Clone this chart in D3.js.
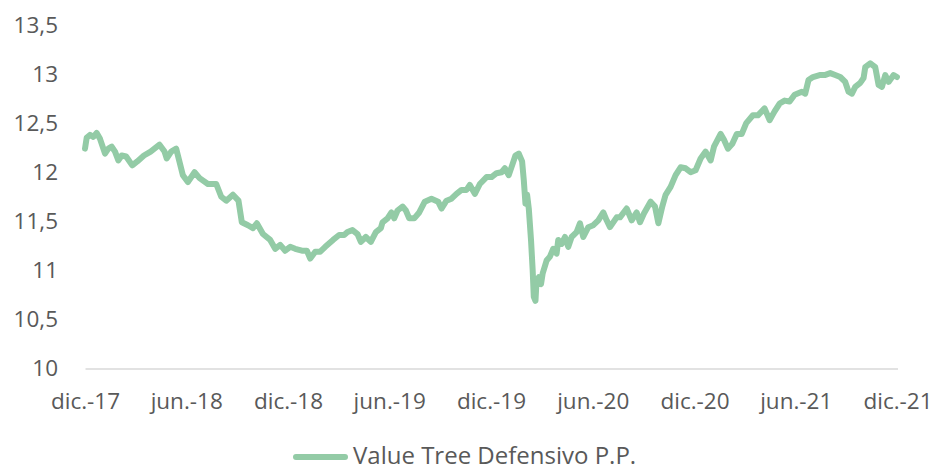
<!DOCTYPE html>
<html>
<head>
<meta charset="utf-8">
<script src="https://cdn.jsdelivr.net/npm/d3@7"></script>
<style>
  html, body { margin: 0; padding: 0; background: #fff; }
  svg { display: block; }
  text { font-family: "Open Sans", sans-serif; fill: #595959; }
</style>
</head>
<body>
<svg id="chart" width="932" height="468"></svg>
<script>
const seriesName = "Value Tree Defensivo P.P.";
const dates = [
"2017-12-01","2017-12-04","2017-12-10","2017-12-16","2017-12-22","2017-12-28",
"2018-01-06","2018-01-12","2018-01-18","2018-01-24","2018-01-30","2018-02-05","2018-02-13","2018-02-24",
"2018-03-05","2018-03-17","2018-03-29","2018-04-14","2018-04-23","2018-04-27","2018-05-05","2018-05-14","2018-05-26",
"2018-06-04","2018-06-16","2018-06-25","2018-07-10","2018-07-25","2018-08-03","2018-08-12","2018-08-24",
"2018-09-03","2018-09-09","2018-09-20","2018-09-29","2018-10-06","2018-10-17","2018-10-30","2018-11-08","2018-11-17","2018-11-26",
"2018-12-05","2018-12-14","2018-12-26","2019-01-04","2019-01-10","2019-01-19","2019-01-28","2019-02-06","2019-02-20",
"2019-03-03","2019-03-12","2019-03-18","2019-03-27","2019-04-05","2019-04-11","2019-04-20","2019-04-29",
"2019-05-08","2019-05-17","2019-05-20","2019-05-29","2019-06-05","2019-06-10","2019-06-16","2019-06-25",
"2019-07-01","2019-07-07","2019-07-16","2019-07-25","2019-08-04","2019-08-16","2019-08-28",
"2019-09-03","2019-09-12","2019-09-21","2019-09-30","2019-10-09","2019-10-18","2019-10-24",
"2019-11-02","2019-11-11","2019-11-23","2019-12-02","2019-12-11","2019-12-20","2019-12-26",
"2020-01-02","2020-01-08","2020-01-14","2020-01-20","2020-01-26","2020-01-29",
"2020-02-01","2020-02-04","2020-02-07","2020-02-11","2020-02-14","2020-02-16","2020-02-19","2020-02-21","2020-02-25","2020-02-29",
"2020-03-03","2020-03-10","2020-03-16","2020-03-22","2020-03-28","2020-03-31",
"2020-04-06","2020-04-12","2020-04-18","2020-04-24","2020-05-03","2020-05-09","2020-05-15","2020-05-24",
"2020-06-02","2020-06-11","2020-06-20","2020-06-26","2020-07-02","2020-07-14","2020-07-20",
"2020-08-01","2020-08-10","2020-08-19","2020-08-25","2020-09-01","2020-09-13","2020-09-21","2020-09-27",
"2020-10-04","2020-10-10","2020-10-19","2020-10-28","2020-11-06","2020-11-15","2020-11-24",
"2020-12-03","2020-12-12","2020-12-21","2020-12-30",
"2021-01-05","2021-01-17","2021-01-23","2021-01-30","2021-02-07","2021-02-15","2021-02-24",
"2021-03-04","2021-03-16","2021-03-25","2021-04-06","2021-04-15","2021-04-24",
"2021-05-03","2021-05-12","2021-05-21","2021-05-30","2021-06-12","2021-06-18","2021-06-24",
"2021-07-02","2021-07-14","2021-07-23","2021-08-02","2021-08-11","2021-08-20","2021-08-29",
"2021-09-04","2021-09-10","2021-09-16","2021-09-25","2021-10-01","2021-10-04","2021-10-13","2021-10-22","2021-10-28",
"2021-11-03","2021-11-09","2021-11-15","2021-11-24","2021-11-30"
];
const values = [
12.24,12.35,12.38,12.36,12.40,12.34,
12.19,12.24,12.26,12.21,12.12,12.17,12.16,12.07,
12.11,12.17,12.21,12.28,12.21,12.14,12.21,12.24,11.97,
11.90,12.00,11.94,11.88,11.88,11.75,11.71,11.77,
11.71,11.49,11.46,11.43,11.48,11.37,11.31,11.22,11.26,11.20,
11.24,11.22,11.20,11.20,11.12,11.19,11.19,11.24,11.31,
11.36,11.36,11.39,11.41,11.37,11.29,11.34,11.29,
11.39,11.43,11.49,11.53,11.59,11.53,11.61,11.65,
11.61,11.53,11.53,11.59,11.70,11.73,11.70,
11.63,11.71,11.73,11.78,11.82,11.82,11.87,
11.78,11.88,11.95,11.95,11.99,12.00,12.04,
11.97,12.07,12.17,12.19,12.11,11.92,
11.68,11.77,11.63,11.31,11.00,10.73,10.69,10.90,10.93,10.86,
10.97,11.10,11.14,11.22,11.17,11.31,
11.27,11.34,11.24,11.34,11.39,11.48,11.34,11.44,
11.46,11.51,11.59,11.51,11.44,11.54,11.54,
11.63,11.51,11.59,11.49,11.58,11.70,11.65,11.48,
11.65,11.77,11.85,11.97,12.05,12.04,12.00,
12.02,12.14,12.21,12.12,
12.26,12.39,12.33,12.24,12.29,12.39,12.39,
12.50,12.58,12.58,12.65,12.53,12.62,
12.70,12.73,12.72,12.79,12.82,12.80,12.94,
12.97,12.99,12.99,13.01,12.99,12.97,12.92,
12.82,12.80,12.87,12.91,12.96,13.07,13.11,13.07,12.89,
12.87,12.99,12.92,12.99,12.97
];
const xTickDates = ["2017-12-01","2018-06-01","2018-12-01","2019-06-01","2019-12-01","2020-06-01","2020-12-01","2021-06-01","2021-12-01"];
const xTickLabels = ["dic.-17","jun.-18","dic.-18","jun.-19","dic.-19","jun.-20","dic.-20","jun.-21","dic.-21"];
const yTicks = [10, 10.5, 11, 11.5, 12, 12.5, 13, 13.5];

const parse = d3.timeParse("%Y-%m-%d");
const data = dates.map((d, i) => ({ date: parse(d), value: values[i] }));

const svg = d3.select("#chart");
const x = d3.scaleTime()
  .domain([parse(xTickDates[0]), parse(xTickDates[xTickDates.length - 1])])
  .range([85, 897.5]);
const y = d3.scaleLinear().domain([10, 13.5]).range([368.5, 25]);

// x axis
const xAxis = d3.axisBottom(x)
  .tickValues(xTickDates.map(parse))
  .tickFormat((d, i) => xTickLabels[i])
  .tickSize(0)
  .tickSizeOuter(0)
  .tickPadding(25);
const gx = svg.append("g").attr("transform", `translate(0,${y(10)})`).call(xAxis);
gx.select(".domain").attr("stroke", "#d9d9d9").attr("stroke-width", 1.3);
gx.selectAll("text").style("font-size", "22.5px").attr("fill", "#595959")
  .style("font-family", "'Open Sans', sans-serif");

// y axis
const fmt = v => (Number.isInteger(v) ? String(v) : String(v).replace(".", ","));
const yAxis = d3.axisLeft(y).tickValues(yTicks).tickFormat(fmt).tickSize(0).tickPadding(27);
const gy = svg.append("g").attr("transform", "translate(85,0)").call(yAxis);
gy.select(".domain").remove();
gy.selectAll("text").style("font-size", "22.5px").attr("fill", "#595959")
  .style("font-family", "'Open Sans', sans-serif");

// line
const line = d3.line().x(d => x(d.date)).y(d => y(d.value));
svg.append("path").datum(data)
  .attr("fill", "none")
  .attr("stroke", "#93cba6")
  .attr("stroke-width", 6)
  .attr("stroke-linejoin", "round")
  .attr("stroke-linecap", "round")
  .attr("d", line);

// legend
const lg = svg.append("g");
lg.append("line").attr("x1", 296).attr("x2", 345).attr("y1", 457).attr("y2", 457)
  .attr("stroke", "#93cba6").attr("stroke-width", 6).attr("stroke-linecap", "round");
lg.append("text").attr("x", 353).attr("y", 463.5)
  .style("font-size", "24px").text(seriesName);
</script>
</body>
</html>
